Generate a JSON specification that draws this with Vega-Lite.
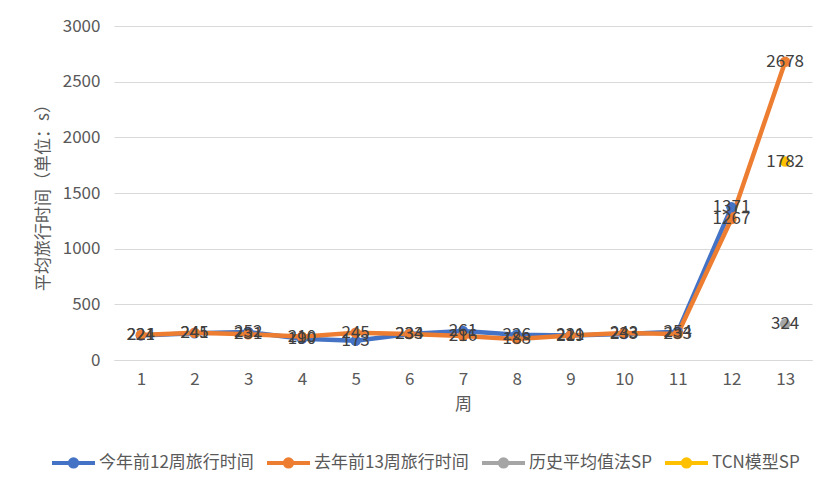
{
  "$schema": "https://vega.github.io/schema/vega-lite/v6.json",
  "autosize": {"type": "none"},
  "padding": {"left": 114, "top": 26, "right": 26, "bottom": 131},
  "width": 698,
  "height": 334,
  "background": "white",
  "config": {
    "font": "Noto Sans CJK SC",
    "view": {"stroke": null},
    "axis": {
      "labelFont": "Noto Sans CJK SC",
      "titleFont": "Noto Sans CJK SC",
      "labelFontSize": 17,
      "titleFontSize": 17,
      "labelColor": "#595959",
      "titleColor": "#595959",
      "titleFontWeight": "normal"
    }
  },
  "data": {
    "values": [
      {"week": 1, "series": "今年前12周旅行时间", "value": 221},
      {"week": 2, "series": "今年前12周旅行时间", "value": 241},
      {"week": 3, "series": "今年前12周旅行时间", "value": 252},
      {"week": 4, "series": "今年前12周旅行时间", "value": 190},
      {"week": 5, "series": "今年前12周旅行时间", "value": 173},
      {"week": 6, "series": "今年前12周旅行时间", "value": 234},
      {"week": 7, "series": "今年前12周旅行时间", "value": 261},
      {"week": 8, "series": "今年前12周旅行时间", "value": 226},
      {"week": 9, "series": "今年前12周旅行时间", "value": 221},
      {"week": 10, "series": "今年前12周旅行时间", "value": 233},
      {"week": 11, "series": "今年前12周旅行时间", "value": 254},
      {"week": 12, "series": "今年前12周旅行时间", "value": 1371},
      {"week": 1, "series": "去年前13周旅行时间", "value": 224},
      {"week": 2, "series": "去年前13周旅行时间", "value": 245},
      {"week": 3, "series": "去年前13周旅行时间", "value": 231},
      {"week": 4, "series": "去年前13周旅行时间", "value": 210},
      {"week": 5, "series": "去年前13周旅行时间", "value": 245},
      {"week": 6, "series": "去年前13周旅行时间", "value": 233},
      {"week": 7, "series": "去年前13周旅行时间", "value": 216},
      {"week": 8, "series": "去年前13周旅行时间", "value": 188},
      {"week": 9, "series": "去年前13周旅行时间", "value": 219},
      {"week": 10, "series": "去年前13周旅行时间", "value": 243},
      {"week": 11, "series": "去年前13周旅行时间", "value": 233},
      {"week": 12, "series": "去年前13周旅行时间", "value": 1267},
      {"week": 13, "series": "去年前13周旅行时间", "value": 2678},
      {"week": 13, "series": "历史平均值法SP", "value": 324},
      {"week": 13, "series": "TCN模型SP", "value": 1782}
    ]
  },
  "encoding": {
    "x": {
      "field": "week",
      "type": "ordinal",
      "title": "周",
      "scale": {"type": "point", "padding": 0.5},
      "axis": {
        "labelAngle": 0,
        "domainColor": "#d9d9d9",
        "domainWidth": 1,
        "ticks": false,
        "labelPadding": 11,
        "titlePadding": 9
      }
    },
    "y": {
      "field": "value",
      "type": "quantitative",
      "title": "平均旅行时间（单位：s）",
      "scale": {"domain": [0, 3000], "nice": false},
      "axis": {
        "values": [0, 500, 1000, 1500, 2000, 2500, 3000],
        "format": "d",
        "domain": false,
        "ticks": false,
        "gridColor": "#d9d9d9",
        "labelPadding": 14,
        "titlePadding": 10
      }
    }
  },
  "layer": [
    {
      "mark": {
        "type": "line",
        "strokeWidth": 4.5,
        "strokeCap": "round",
        "strokeJoin": "round",
        "point": {"filled": true, "size": 110, "opacity": 1}
      },
      "encoding": {
        "color": {
          "field": "series",
          "type": "nominal",
          "sort": null,
          "scale": {
            "domain": ["今年前12周旅行时间", "去年前13周旅行时间", "历史平均值法SP", "TCN模型SP"],
            "range": ["#4472C4", "#ED7D31", "#A5A5A5", "#FFC000"]
          },
          "legend": {
            "title": null,
            "orient": "none",
            "direction": "horizontal",
            "legendX": -64,
            "legendY": 413,
            "symbolType": "M-1,0H1M-0.17,0A0.17,0.17 0 1,1 0.17,0A0.17,0.17 0 1,1 -0.17,0Z",
            "symbolSize": 1849,
            "symbolStrokeWidth": 4,
            "labelFontSize": 17,
            "labelColor": "#595959",
            "labelFont": "Noto Sans CJK SC",
            "labelOffset": 2,
            "columnPadding": 5,
            "encode": {
              "symbols": {
                "update": {
                  "fill": {"scale": "color", "field": "value"},
                  "fillOpacity": {"value": 1},
                  "opacity": {"value": 1}
                }
              }
            }
          }
        }
      }
    },
    {
      "mark": {
        "type": "text",
        "fontSize": 17,
        "color": "#404040",
        "align": "center",
        "baseline": "middle"
      },
      "encoding": {
        "text": {"field": "value", "type": "quantitative"}
      }
    }
  ]
}
